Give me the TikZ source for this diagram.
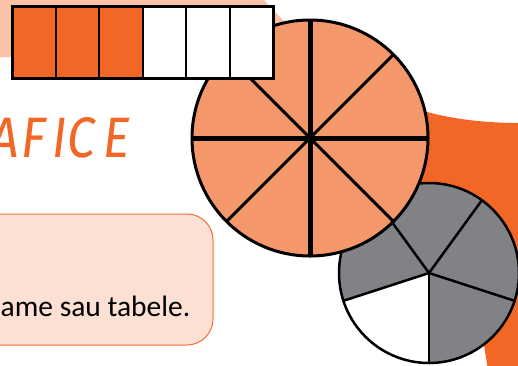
\documentclass[tikz,border=0pt]{standalone}
\usepackage{fontspec}
\setmainfont{Carlito}
\newfontfamily\titlefont{Fira Sans}[FakeStretch=0.88, FakeSlant=0.12]
\definecolor{peach}{RGB}{251,194,167}
\definecolor{darkorange}{RGB}{243,103,38}
\definecolor{midorange}{RGB}{244,152,108}
\definecolor{boxfill}{RGB}{252,224,212}
\definecolor{boxline}{RGB}{240,112,50}
\definecolor{pgray}{RGB}{128,130,133}
\begin{document}
\begin{tikzpicture}[x=1pt,y=-1pt,
  titleletter/.style={anchor=base west, inner sep=0pt, text=darkorange,
    font=\titlefont\fontsize{57}{60}\selectfont},
  cellbox/.style={draw=black, line width=2pt},
  spoke/.style={draw=black, line width=2.5pt}]
\useasboundingbox (0,0) rectangle (518,365);
\clip (0,0) rectangle (518,365);
% background shapes
\fill[peach] (-2,-2) -- (262,-2) -- (300,38) -- (300,57) -- (-2,57) -- cycle;
\fill[darkorange] (405,105) .. controls (440,118) and (480,123) .. (520,123)
  -- (520,367) -- (487.5,367) -- (484,345) -- (470,300) -- (410,190) -- cycle;
% text box
\draw[draw=boxline, line width=1pt, fill=boxfill, rounded corners=26pt] (-30,214) rectangle (213,345);
\node[anchor=base west, inner sep=0pt, font=\fontsize{29.5}{34}\selectfont] (boxtext) at (0.5,316) {ame sau tabele.};
% title
\node[titleletter] (tA) at (-12,157) {A};
\node[titleletter] (tF) at (19,157) {F};
\node[titleletter] (tI) at (50,157) {I};
\node[titleletter] (tC) at (65,157) {C};
\node[titleletter] (tE) at (101,157) {E};
% gray pie
\coordinate (gc) at (429,273);
\fill[pgray] (gc) circle (90pt);
\fill[white] (gc) -- ++(198:90pt) arc[start angle=198, end angle=270, radius=90pt] -- cycle;
\foreach \a in {126,54,-18,-90,198} \draw[spoke] (gc) -- ++(\a:90pt);
\draw[line width=2.5pt] (gc) circle (90pt);
% orange pie
\coordinate (oc) at (310,138);
\fill[midorange] (oc) circle (118pt);
\foreach \a in {45,135} \draw[line width=3pt] (oc) ++(\a:118pt) -- ++(\a+180:236pt);
\draw[line width=5pt] (oc) ++(90:118pt) -- ++(270:236pt);
\draw[line width=5pt] (oc) ++(0:118pt) -- ++(180:236pt);
\draw[line width=3pt] (oc) circle (118pt);
% bar
\foreach \i in {0,1,2} \draw[cellbox, fill=darkorange] (12+\i*43.5,6) rectangle (55.5+\i*43.5,78);
\foreach \i in {3,4,5} \draw[cellbox, fill=white] (12+\i*43.5,6) rectangle (55.5+\i*43.5,78);
\draw[line width=3pt] (12,6) rectangle (273,78);
\end{tikzpicture}
\end{document}
